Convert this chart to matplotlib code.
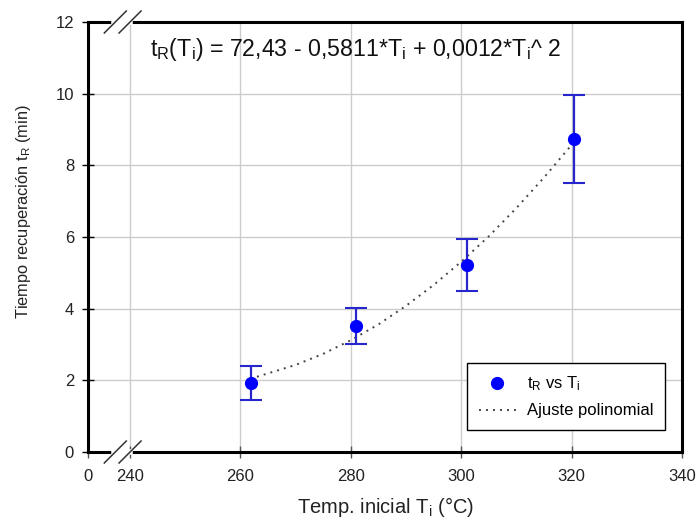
import numpy as np
import matplotlib
matplotlib.use("Agg")
import matplotlib.pyplot as plt
from matplotlib.lines import Line2D

plt.rcParams['font.family'] = ['Liberation Sans', 'DejaVu Sans']
plt.rcParams['mathtext.fontset'] = 'custom'
plt.rcParams['mathtext.rm'] = 'Liberation Sans'
plt.rcParams['mathtext.it'] = 'Liberation Sans'
plt.rcParams['mathtext.default'] = 'regular'

# data
temp = [262.0, 281.0, 301.0, 320.5]
t_rec = [1.93, 3.52, 5.22, 8.73]
t_err = [0.47, 0.51, 0.72, 1.22]
fit_x = [263, 270, 275, 280, 285, 290, 295, 300, 305, 310, 315, 320]
fit_y = [2.10, 2.43, 2.74, 3.12, 3.56, 4.08, 4.66, 5.31, 6.02, 6.81, 7.66, 8.57]
xticks = [0, 240, 260, 280, 300, 320, 340]
yticks = [0, 2, 4, 6, 8, 10, 12]

# broken x axis: 0..240 compressed
T0 = 232.38
K = (240 - T0) / 240.0
def fwd(x):
    x = np.asarray(x, dtype=float)
    return np.where(x < 240, T0 + x * K, x)
def inv(t):
    t = np.asarray(t, dtype=float)
    return np.where(t < 240, (t - T0) / K, t)

fig = plt.figure(figsize=(6.97, 5.25), dpi=100)
ax = fig.add_axes([88/697, 1-452/525, (682-88)/697, (452-22)/525])
ax.set_xscale('function', functions=(fwd, inv))
ax.set_xlim(0, 340)
ax.set_ylim(0, 12)
ax.set_xticks(xticks)
ax.set_yticks(yticks)

# grid
for xv in xticks[1:-1]:
    ax.axvline(xv, color='#cccccc', lw=1.0, zorder=0)
for yv in yticks[1:-1]:
    ax.axhline(yv, color='#cccccc', lw=1.0, zorder=0)

ax.errorbar(temp, t_rec, yerr=t_err, fmt='none', ecolor='#2626cc',
            elinewidth=1.6, capsize=8, capthick=1.5, zorder=3)
ax.plot(temp, t_rec, 'o', color='#0000ff', ms=8.5, zorder=4,
        label=r'$t_R$ vs $T_i$')
ax.plot(fit_x, fit_y, color='#444444', lw=1.4, dashes=(1.0, 2.6), zorder=2,
        label='Ajuste polinomial')

for s in ax.spines.values():
    s.set_linewidth(2.2)
    s.set_color('black')

ax.tick_params(axis='both', direction='inout', length=8, width=1,
               labelsize=12, colors='black')
ax.tick_params(axis='x', pad=8, colors='#555555', labelcolor='#222222')
ax.tick_params(axis='y', pad=6, labelcolor='#222222')

ax.set_xlabel(r'Temp. inicial $T_i$ (°C)', fontsize=14.5, color='#222222', labelpad=8)
ax.set_ylabel(r'Tiempo recuperación $t_R$ (min)', fontsize=11.8, color='#222222')
ax.yaxis.set_label_coords(-0.092, 0.558)

ax.text(0.104, 0.935, r'$t_R(T_i)$ = 72,43 - 0,5811*$T_i$ + 0,0012*$T_i$^ 2',
        transform=ax.transAxes, fontsize=16.7, va='center', ha='left', color='#111111')

leg = ax.legend(loc='lower right', bbox_to_anchor=(0.971, 0.051), borderaxespad=0,
                fontsize=12, frameon=True, fancybox=False, edgecolor='black',
                framealpha=1, numpoints=1, handlelength=2.2, handletextpad=0.65,
                borderpad=0.7, labelspacing=0.62)
leg.get_frame().set_linewidth(1.0)

# axis break marks on top and bottom spines
fig.canvas.draw()
gap_l = ax.transData.transform((150, 0))[0]
gap_r = ax.transData.transform((240, 0))[0]
for ypos in (0, 12):
    yd = ax.transData.transform((0, ypos))[1]
    fig.add_artist(Line2D([gap_l, gap_r], [yd, yd], transform=None,
                          color='white', lw=4, zorder=10))
    for xc in (gap_l + 1, gap_r):
        fig.add_artist(Line2D([xc - 11, xc + 11], [yd - 11, yd + 11],
                              transform=None, color='#333333', lw=1.1, zorder=11))

fig.savefig('out.png', dpi=100)
